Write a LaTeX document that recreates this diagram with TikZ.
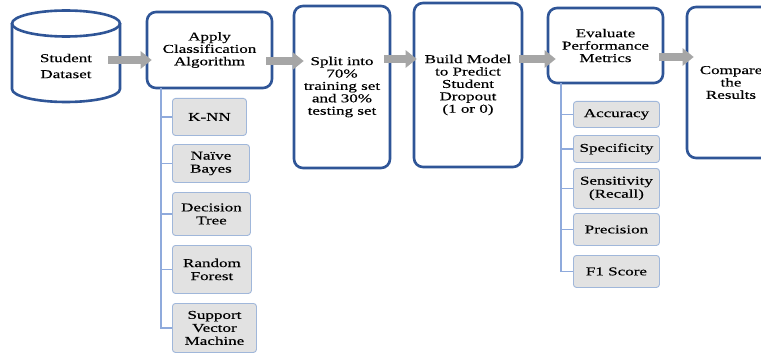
\documentclass[tikz,border=0pt]{standalone}
\usepackage{fontspec}
\setmainfont[FakeStretch=1.42,FakeBold=0.4]{Liberation Serif}
\usetikzlibrary{arrows.meta,calc}
\definecolor{boxblue}{RGB}{47,85,151}
\definecolor{arrowgray}{RGB}{166,166,166}
\definecolor{subfill}{RGB}{226,226,226}
\definecolor{subedge}{RGB}{160,183,218}
\definecolor{linkblue}{RGB}{143,170,220}
\begin{document}
\begin{tikzpicture}[x=1pt,y=-1pt,
  mainbox/.style={draw=boxblue, line width=2.6pt, rounded corners=9pt, fill=white,
    align=center, inner sep=0pt, font=\fontsize{12}{12.4}\selectfont},
  subbox/.style={draw=subedge, line width=0.9pt, rounded corners=3pt, fill=subfill,
    align=center, inner sep=0pt, anchor=north west, font=\fontsize{12}{13}\selectfont},
  cyl/.style={draw=boxblue, line width=2.6pt},
  flow/.style={draw=arrowgray, line width=8pt, -{Triangle[width=17pt,length=11pt]}},
  link/.style={draw=linkblue, line width=1.3pt}
]
\fill[white] (0,0) rectangle (761,353);
\useasboundingbox (0,0) rectangle (761,353);

% cylinder for the data set
\draw[cyl] (12,23.5) -- (12,89) arc[start angle=180,end angle=0,x radius=54,y radius=13] -- (120,23.5);
\draw[cyl] (66,23.5) ellipse [x radius=54, y radius=13];
\node[inner sep=0pt, minimum width=108, align=center, font=\fontsize{12}{16}\selectfont] (ds) at (66,66) {Student\\Dataset};

% spine lines for the sub lists
\coordinate (c1) at (161,0);
\coordinate (c2) at (561,0);

% main process boxes
\node[mainbox, minimum width=125, minimum height=76] (apply) at (209.5,50) {Apply\\Classification\\Algorithm};
\node[mainbox, minimum width=96, minimum height=162] (split) at (342,87) {Split into\\70\%\\training set\\and 30\%\\testing set};
\node[mainbox, minimum width=108, minimum height=164] (build) at (468,85) {Build Model\\to Predict\\Student\\Dropout\\(1 or 0)};
\node[mainbox, minimum width=115, minimum height=75] (eval) at (605.5,45.5) {Evaluate\\Performance\\Metrics};
\node[mainbox, minimum width=88, minimum height=151] (comp) at (731,82.5) {Compare\\the\\Results};

% classifiers
\node[subbox, minimum width=74, minimum height=37] (knn) at (172,98) {K-NN};
\node[subbox, minimum width=77, minimum height=38] (nb) at (172,144) {Naïve\\Bayes};
\node[subbox, minimum width=78, minimum height=43] (dt) at (172,192) {Decision\\Tree};
\node[subbox, minimum width=79, minimum height=48] (rf) at (172,245) {Random\\Forest};
\node[subbox, minimum width=84, minimum height=49] (svm) at (172,303) {Support\\Vector\\Machine};

% metrics
\node[subbox, minimum width=86, minimum height=26] (acc) at (573,101) {Accuracy};
\node[subbox, minimum width=86, minimum height=27] (spec) at (573,135) {Specificity};
\node[subbox, minimum width=86, minimum height=40] (sens) at (573,168) {Sensitivity\\(Recall)};
\node[subbox, minimum width=86, minimum height=32] (prec) at (573,213) {Precision};
\node[subbox, minimum width=86, minimum height=32] (fone) at (573,255) {F1 Score};

% tree connectors
\draw[link] ([yshift=1.2pt]c1 |- apply.south) |- (svm.west);
\foreach \n in {knn,nb,dt,rf} \draw[link] (\n.west -| c1) -- (\n.west);
\draw[link] ([yshift=1.2pt]c2 |- eval.south) |- (fone.west);
\foreach \n in {acc,spec,sens,prec} \draw[link] (\n.west -| c2) -- (\n.west);

% flow arrows
\coordinate (ya) at (0,60);
\coordinate (yb) at (0,61);
\coordinate (yc) at (0,59);
\coordinate (yd) at (0,57);
\draw[flow] ([xshift=-12pt]ds.east |- ya) -- ([xshift=6pt]apply.west |- ya);
\draw[flow] ([xshift=-7pt]apply.east |- yb) -- ([xshift=11pt]split.west |- yb);
\draw[flow] ([xshift=-7pt]split.east |- yc) -- ([xshift=4pt]build.west |- yc);
\draw[flow] ([xshift=-4pt]build.east |- yc) -- ([xshift=9pt]eval.west |- yc);
\draw[flow] ([xshift=-5pt]eval.east |- yd) -- ([xshift=8pt]comp.west |- yd);
\end{tikzpicture}
\end{document}
